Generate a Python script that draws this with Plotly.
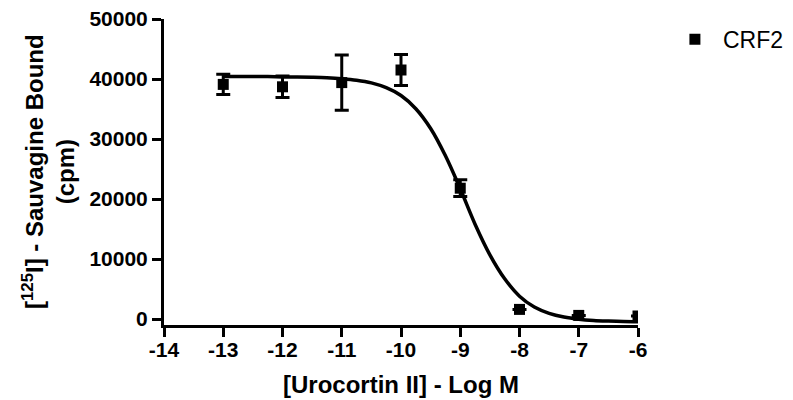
import plotly.graph_objects as go

# Data
log_conc = [-13, -12, -11, -10, -9, -8, -7, -6]
bound_cpm = [39100, 38700, 39400, 41500, 21800, 1600, 600, 500]
bound_err = [1700, 1800, 4600, 2600, 1400, 0, 0, 0]

# Fitted curve
curve_x = [-13, -12.75, -12.5, -12.25, -12, -11.75, -11.5, -11.25, -11, -10.75,
           -10.5, -10.25, -10, -9.75, -9.5, -9.25, -9, -8.75, -8.5, -8.25, -8,
           -7.75, -7.5, -7.25, -7, -6.75, -6.5, -6.25, -6]
curve_y = [40400, 40400, 40400, 40400, 40350, 40330, 40280, 40200, 40050, 39800,
           39350, 38550, 37250, 35050, 31750, 27200, 21700, 15800, 10700, 6700, 3800,
           2000, 950, 330, -30, -240, -350, -420, -450]

x_ticks = [-14, -13, -12, -11, -10, -9, -8, -7, -6]
y_ticks = [0, 10000, 20000, 30000, 40000, 50000]

FONT = "Arial, 'Liberation Sans', sans-serif"

fig = go.Figure()
fig.add_trace(go.Scatter(
    x=curve_x, y=curve_y, mode="lines", line=dict(color="black", width=3.5, shape="spline"),
    showlegend=False, hoverinfo="skip"))
fig.add_trace(go.Scatter(
    x=log_conc, y=bound_cpm, mode="markers", name="CRF2",
    marker=dict(symbol="square", size=11, color="black"),
    error_y=dict(type="data", array=bound_err, visible=True, color="black",
                 thickness=3, width=7)))

axis_common = dict(
    showgrid=False, zeroline=False, showline=True, linecolor="black", linewidth=3,
    ticks="outside", ticklen=9, tickwidth=3, tickcolor="black", automargin=False,
    ticklabeloverflow="allow",
    tickfont=dict(family=FONT, size=21, color="black", weight="bold"),
)
fig.update_xaxes(range=[-14, -6], tickvals=x_ticks, ticktext=[str(v) for v in x_ticks],
                 ticklabelstandoff=-5, **axis_common)
fig.update_yaxes(range=[-1000, 50000], tickvals=y_ticks, ticktext=[str(v) for v in y_ticks],
                 **axis_common)

title_font = dict(family=FONT, size=24, color="black", weight="bold")
fig.add_annotation(text="[Urocortin II] - Log M", xref="paper", yref="paper",
                   x=0.5, y=-0.196, xanchor="center", yanchor="middle",
                   showarrow=False, font=title_font)
fig.add_annotation(text="[<sup>125</sup>I] - Sauvagine Bound<br>(cpm)", xref="paper", yref="paper",
                   x=(40 - 156) / 474, y=0.5, xanchor="center", yanchor="middle",
                   textangle=-90, showarrow=False, font=title_font)

fig.update_layout(
    width=785, height=392,
    margin=dict(l=156, r=155, t=11, b=75, autoexpand=False),
    plot_bgcolor="white", paper_bgcolor="white",
    legend=dict(x=1.061, y=1.004, xanchor="left", yanchor="top", itemwidth=46,
                font=dict(family=FONT, size=23, color="black"),
                bgcolor="rgba(0,0,0,0)"),
)

fig.write_html("out.html")
